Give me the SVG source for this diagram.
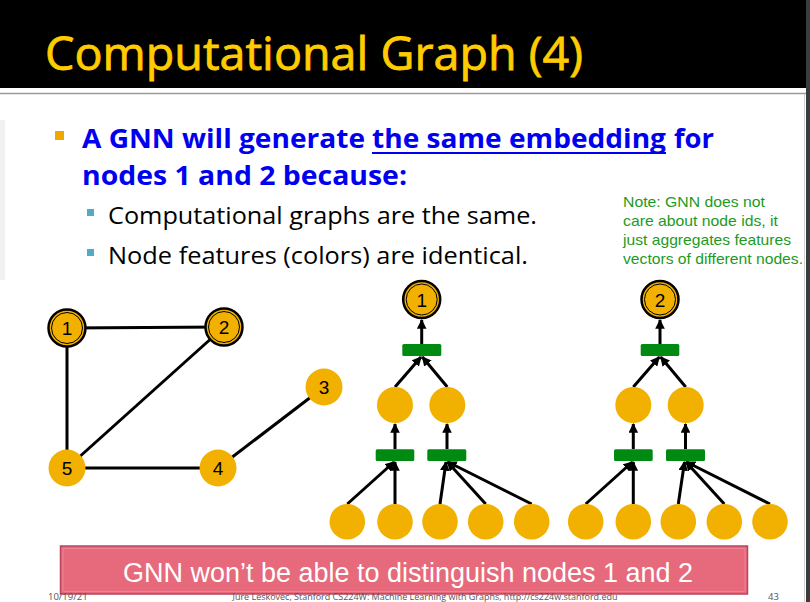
<svg xmlns="http://www.w3.org/2000/svg" width="810" height="602" viewBox="0 0 810 602">
<style>
.nd{fill:#F2B100}
.ring{fill:#F2B100;stroke:#000;stroke-width:2.5}
.inring{fill:none;stroke:#000;stroke-width:1}
.lbl{font-family:"Liberation Sans",Arial,sans-serif;font-size:19px;fill:#000;text-anchor:middle}
.edge{stroke:#000;stroke-width:3;fill:none}
.arr{stroke:#000;stroke-width:3;fill:none;marker-end:url(#ah)}
.bar{fill:#008A12}
.note{font-family:"Liberation Sans",Arial,sans-serif;font-size:15px;fill:#1E9A1E}
.b1{font-family:"Open Sans","Liberation Sans",sans-serif;font-weight:bold;font-size:27px;fill:#0000F0}
.b2{font-family:"Open Sans","Liberation Sans",sans-serif;font-size:23px;fill:#000}
.foot{font-family:"Open Sans","Liberation Sans",sans-serif;font-size:9.5px;fill:#555}
</style>
<defs>
<marker id="ah" viewBox="0 0 10 10" refX="9" refY="5" markerWidth="3.2" markerHeight="3.2" orient="auto">
<path d="M0,0 L10,5 L0,10 z" fill="#000"/>
</marker>
</defs>
<rect x="0" y="0" width="810" height="602" fill="#fff"/>
<rect x="0" y="0" width="806" height="88" fill="#000"/>
<line x1="0" y1="93.5" x2="806" y2="93.5" stroke="#9a9a9a" stroke-width="1.5"/>
<rect x="0" y="120" width="5" height="160" fill="#f1f1f1"/>
<line x1="804.5" y1="94" x2="804.5" y2="602" stroke="#d0d0d0" stroke-width="1"/>
<rect x="806" y="0" width="4" height="602" fill="#3c3c3c"/>
<text x="45" y="70" font-family="Open Sans,Liberation Sans,sans-serif" font-size="46" fill="#FFCC00" stroke="#FFCC00" stroke-width="0.8" textLength="538" lengthAdjust="spacingAndGlyphs">Computational Graph (4)</text>

<g id="bullets">
<rect x="55" y="131" width="9" height="9" fill="#F0A800"/>
<text class="b1" x="82" y="148" textLength="283" lengthAdjust="spacingAndGlyphs">A GNN will generate</text>
<text class="b1" x="372" y="148" textLength="294" lengthAdjust="spacingAndGlyphs">the same embedding</text>
<line x1="372" y1="153" x2="666" y2="153" stroke="#0000F0" stroke-width="2"/>
<text class="b1" x="674" y="148" textLength="40" lengthAdjust="spacingAndGlyphs">for</text>
<text class="b1" x="82" y="185" textLength="325" lengthAdjust="spacingAndGlyphs">nodes 1 and 2 because:</text>
<rect x="87" y="209" width="7" height="7" fill="#4FACC6"/>
<text class="b2" x="108" y="224" textLength="429" lengthAdjust="spacingAndGlyphs">Computational graphs are the same.</text>
<rect x="87" y="249" width="7" height="7" fill="#4FACC6"/>
<text class="b2" x="108" y="264" textLength="420" lengthAdjust="spacingAndGlyphs">Node features (colors) are identical.</text>
</g>

<g id="note">
<text class="note" x="623" y="207" textLength="142" lengthAdjust="spacingAndGlyphs">Note: GNN does not</text>
<text class="note" x="623" y="226" textLength="155" lengthAdjust="spacingAndGlyphs">care about node ids, it</text>
<text class="note" x="623" y="245" textLength="168" lengthAdjust="spacingAndGlyphs">just aggregates features</text>
<text class="note" x="623" y="264" textLength="180" lengthAdjust="spacingAndGlyphs">vectors of different nodes.</text>
</g>

<g id="connectors">
<line class="edge" x1="67" y1="328" x2="224" y2="327"/>
<line class="edge" x1="67" y1="328" x2="67" y2="468"/>
<line class="edge" x1="224" y1="327" x2="67" y2="468"/>
<line class="edge" x1="67" y1="468" x2="218" y2="468"/>
<line class="edge" x1="218" y1="468" x2="324" y2="387"/>

<line class="arr" x1="421.7" y1="344" x2="421.7" y2="320"/>
<line class="arr" x1="395" y1="387" x2="421" y2="357"/>
<line class="arr" x1="447.3" y1="387" x2="422.4" y2="357"/>
<line class="arr" x1="395" y1="449" x2="395" y2="424"/>
<line class="arr" x1="447" y1="449" x2="447" y2="424"/>
<line class="arr" x1="347.3" y1="504" x2="394" y2="462"/>
<line class="arr" x1="395" y1="504" x2="395" y2="462"/>
<line class="arr" x1="440" y1="504" x2="446" y2="462"/>
<line class="arr" x1="485.7" y1="504" x2="447.5" y2="462"/>
<line class="arr" x1="531.7" y1="504" x2="448" y2="462"/>

<line class="arr" x1="660" y1="344" x2="660" y2="320"/>
<line class="arr" x1="633.3" y1="387" x2="659.3" y2="357"/>
<line class="arr" x1="685.7" y1="387" x2="660.7" y2="357"/>
<line class="arr" x1="633.3" y1="449" x2="633.3" y2="424"/>
<line class="arr" x1="685.5" y1="449" x2="685.5" y2="424"/>
<line class="arr" x1="585.7" y1="504" x2="632.3" y2="462"/>
<line class="arr" x1="633.3" y1="504" x2="633.3" y2="462"/>
<line class="arr" x1="678.3" y1="504" x2="684.5" y2="462"/>
<line class="arr" x1="724.3" y1="504" x2="686" y2="462"/>
<line class="arr" x1="770" y1="504" x2="686.5" y2="462"/>
</g>

<g id="g1"><circle class="ring" cx="67" cy="328" r="18.5"/><circle class="inring" cx="67" cy="328" r="15.5"/><text class="lbl" x="67" y="335">1</text></g>
<g id="g2"><circle class="ring" cx="224" cy="327" r="18.5"/><circle class="inring" cx="224" cy="327" r="15.5"/><text class="lbl" x="224" y="334">2</text></g>
<g id="g3"><circle class="nd" cx="324" cy="387" r="18.5"/><text class="lbl" x="324" y="394">3</text></g>
<g id="g4"><circle class="nd" cx="218" cy="468" r="18.5"/><text class="lbl" x="218" y="475">4</text></g>
<g id="g5"><circle class="nd" cx="67" cy="468" r="18.5"/><text class="lbl" x="67" y="475">5</text></g>

<g id="t1-root"><circle class="ring" cx="421.7" cy="299.5" r="18.5"/><circle class="inring" cx="421.7" cy="299.5" r="15.5"/><text class="lbl" x="421.7" y="306.5">1</text></g>
<g id="t1-agg"><rect class="bar" x="402.3" y="344" width="39" height="12" rx="1.5"/></g>
<g id="t1-m1"><circle class="nd" cx="395" cy="405" r="18"/></g>
<g id="t1-m2"><circle class="nd" cx="447.3" cy="405" r="18"/></g>
<g id="t1-agg1"><rect class="bar" x="375.7" y="449.3" width="38.6" height="11.7" rx="1.5"/></g>
<g id="t1-agg2"><rect class="bar" x="427.3" y="449.3" width="39" height="11.7" rx="1.5"/></g>
<g id="t1-l1"><circle class="nd" cx="347.3" cy="521.7" r="17.8"/></g>
<g id="t1-l2"><circle class="nd" cx="395" cy="521.7" r="17.8"/></g>
<g id="t1-l3"><circle class="nd" cx="440" cy="521.7" r="17.8"/></g>
<g id="t1-l4"><circle class="nd" cx="485.7" cy="521.7" r="17.8"/></g>
<g id="t1-l5"><circle class="nd" cx="531.7" cy="521.7" r="17.8"/></g>

<g id="t2-root"><circle class="ring" cx="660" cy="299.5" r="18.5"/><circle class="inring" cx="660" cy="299.5" r="15.5"/><text class="lbl" x="660" y="306.5">2</text></g>
<g id="t2-agg"><rect class="bar" x="640.7" y="344" width="38.6" height="12" rx="1.5"/></g>
<g id="t2-m1"><circle class="nd" cx="633.3" cy="405" r="18"/></g>
<g id="t2-m2"><circle class="nd" cx="685.7" cy="405" r="18"/></g>
<g id="t2-agg1"><rect class="bar" x="614" y="449.3" width="38.7" height="11.7" rx="1.5"/></g>
<g id="t2-agg2"><rect class="bar" x="666" y="449.3" width="39" height="11.7" rx="1.5"/></g>
<g id="t2-l1"><circle class="nd" cx="585.7" cy="521.7" r="17.8"/></g>
<g id="t2-l2"><circle class="nd" cx="633.3" cy="521.7" r="17.8"/></g>
<g id="t2-l3"><circle class="nd" cx="678.3" cy="521.7" r="17.8"/></g>
<g id="t2-l4"><circle class="nd" cx="724.3" cy="521.7" r="17.8"/></g>
<g id="t2-l5"><circle class="nd" cx="770" cy="521.7" r="17.8"/></g>

<g id="banner">
<rect x="60.5" y="546" width="687" height="48" fill="#E66A7C" stroke="#B9455E" stroke-width="1.5"/>
<rect x="63" y="548.5" width="682" height="43" fill="none" stroke="#F08A98" stroke-width="0.8"/>
<text x="408" y="582" font-family="Liberation Sans,Arial,sans-serif" font-size="27" fill="#fff" text-anchor="middle" textLength="570" lengthAdjust="spacingAndGlyphs">GNN won’t be able to distinguish nodes 1 and 2</text>
</g>

<g id="footer">
<text class="foot" x="48" y="599.5">10/19/21</text>
<text class="foot" x="425" y="599.5" text-anchor="middle" textLength="385" lengthAdjust="spacingAndGlyphs">Jure Leskovec, Stanford CS224W: Machine Learning with Graphs, http://cs224w.stanford.edu</text>
<text class="foot" x="768" y="599.5">43</text>
</g>
</svg>
